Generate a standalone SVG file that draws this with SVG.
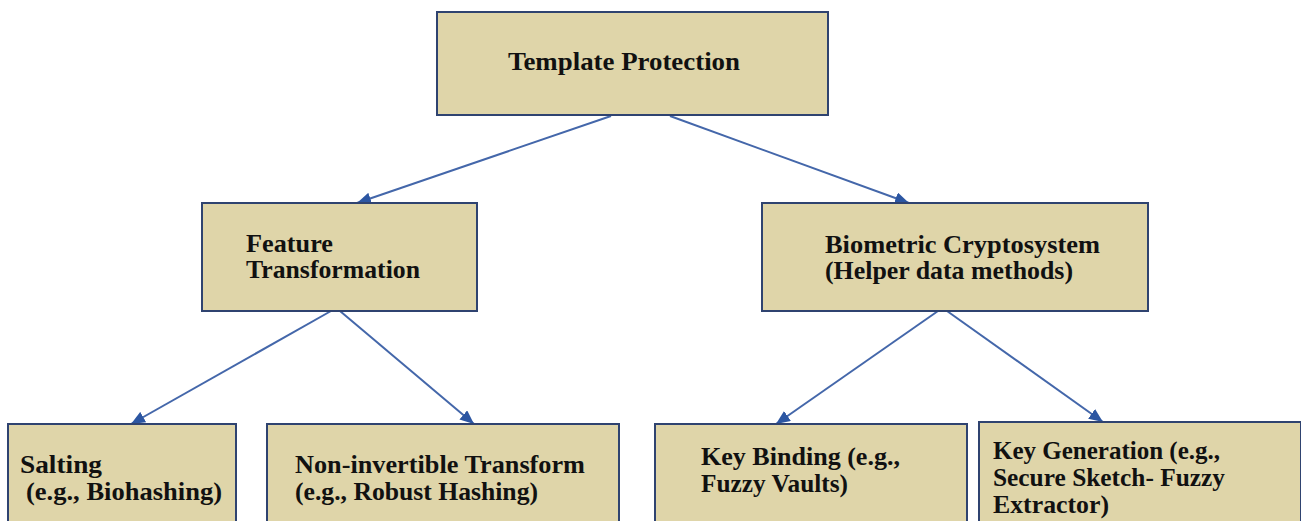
<svg xmlns="http://www.w3.org/2000/svg" width="1301" height="521" viewBox="0 0 1301 521">
  <defs>
    <marker id="arrow" viewBox="0 0 14 12" refX="14" refY="6" markerWidth="14" markerHeight="12" markerUnits="userSpaceOnUse" orient="auto">
      <path d="M0,0 L14,6 L0,12 Z" fill="#2c56a2"/>
    </marker>
    <style>
      .box { fill: #dfd5a9; stroke: #2f4370; stroke-width: 2; }
      .lbl { font-family: 'Liberation Serif', serif; font-weight: 700; font-size: 25px; fill: #111; }
      .link { stroke: #4467aa; stroke-width: 2; fill: none; marker-end: url(#arrow); }
    </style>
  </defs>
  <rect width="1301" height="521" fill="#ffffff"/>

  <g id="connectors">
    <line class="link" x1="611" y1="116" x2="357" y2="203"/>
    <line class="link" x1="670" y1="116" x2="909" y2="203"/>
    <line class="link" x1="331" y1="311" x2="131" y2="424"/>
    <line class="link" x1="340" y1="311" x2="474" y2="424"/>
    <line class="link" x1="938" y1="311" x2="776" y2="424"/>
    <line class="link" x1="947" y1="311" x2="1103" y2="422"/>
  </g>

  <g id="template-protection">
    <rect class="box" x="437" y="12" width="391" height="103"/>
    <text class="lbl" x="508" y="70" textLength="232" lengthAdjust="spacingAndGlyphs">Template Protection</text>
  </g>

  <g id="feature-transformation">
    <rect class="box" x="202" y="203" width="275" height="108"/>
    <text class="lbl" x="246" y="252" textLength="87" lengthAdjust="spacingAndGlyphs">Feature</text>
    <text class="lbl" x="246" y="278" textLength="174" lengthAdjust="spacingAndGlyphs">Transformation</text>
  </g>

  <g id="biometric-cryptosystem">
    <rect class="box" x="762" y="203" width="386" height="108"/>
    <text class="lbl" x="825" y="253" textLength="275" lengthAdjust="spacingAndGlyphs">Biometric Cryptosystem</text>
    <text class="lbl" x="825" y="279" textLength="248" lengthAdjust="spacingAndGlyphs">(Helper data methods)</text>
  </g>

  <g id="salting">
    <rect class="box" x="8" y="424" width="228" height="110"/>
    <text class="lbl" x="20" y="473" textLength="82" lengthAdjust="spacingAndGlyphs">Salting</text>
    <text class="lbl" x="26" y="500" textLength="196" lengthAdjust="spacingAndGlyphs">(e.g., Biohashing)</text>
  </g>

  <g id="non-invertible-transform">
    <rect class="box" x="267" y="424" width="352" height="110"/>
    <text class="lbl" x="295" y="473" textLength="290" lengthAdjust="spacingAndGlyphs">Non-invertible Transform</text>
    <text class="lbl" x="295" y="500" textLength="243" lengthAdjust="spacingAndGlyphs">(e.g., Robust Hashing)</text>
  </g>

  <g id="key-binding">
    <rect class="box" x="655" y="424" width="312" height="110"/>
    <text class="lbl" x="701" y="465" textLength="199" lengthAdjust="spacingAndGlyphs">Key Binding (e.g.,</text>
    <text class="lbl" x="701" y="492" textLength="147" lengthAdjust="spacingAndGlyphs">Fuzzy Vaults)</text>
  </g>

  <g id="key-generation">
    <rect class="box" x="979" y="422" width="322" height="112"/>
    <text class="lbl" x="993" y="459" textLength="227" lengthAdjust="spacingAndGlyphs">Key Generation (e.g.,</text>
    <text class="lbl" x="993" y="486" textLength="232" lengthAdjust="spacingAndGlyphs">Secure Sketch- Fuzzy</text>
    <text class="lbl" x="993" y="513" textLength="116" lengthAdjust="spacingAndGlyphs">Extractor)</text>
  </g>
</svg>
